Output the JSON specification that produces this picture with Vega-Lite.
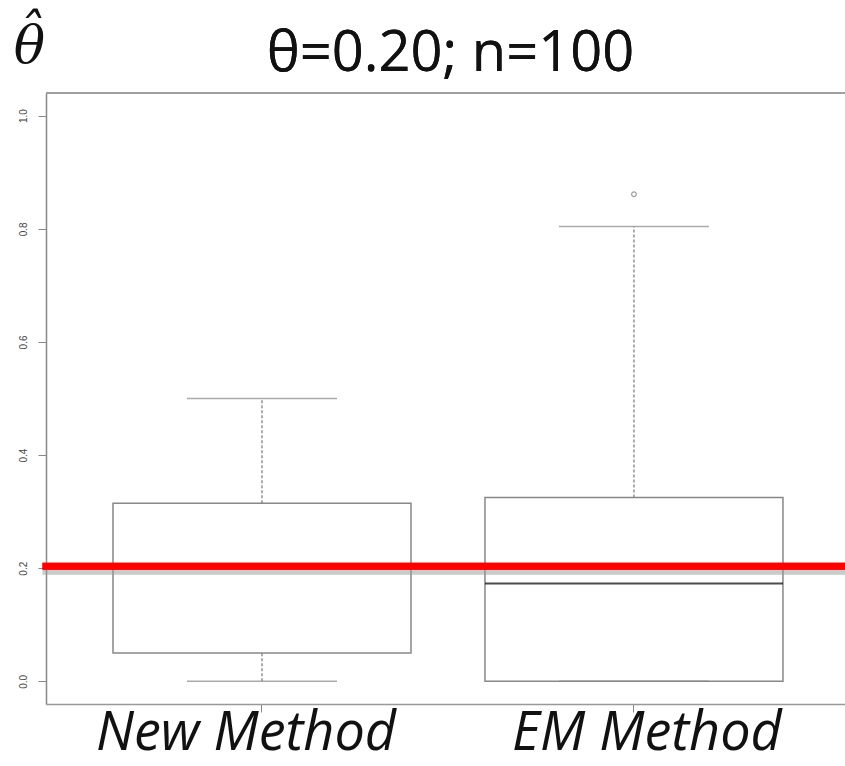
{
  "$schema": "https://vega.github.io/schema/vega-lite/v6.json",
  "autosize": "none",
  "width": 799,
  "height": 611,
  "padding": {"left": 46, "top": 93, "right": 0, "bottom": 62},
  "background": "white",
  "config": {"view": {"stroke": null}},
  "datasets": {
    "stats": [
      {"method": "New Method", "lower": 0, "q1": 0.05, "median": 0.2, "q3": 0.315, "upper": 0.5},
      {"method": "EM Method", "lower": 0, "q1": 0, "median": 0.173, "q3": 0.325, "upper": 0.804}
    ],
    "outliers": [
      {"method": "EM Method", "value": 0.861}
    ]
  },
  "data": {"name": "stats"},
  "layer": [
    {
      "mark": {"type": "bar", "size": 298, "fill": "white", "stroke": "#888", "strokeWidth": 1.5},
      "encoding": {
        "x": {"field": "method", "type": "nominal", "sort": ["New Method", "EM Method"],
              "scale": {"type": "band", "paddingInner": 0, "paddingOuter": 0.074, "align": 0.545},
              "axis": {"orient": "bottom", "title": null, "domain": true, "domainColor": "#999", "domainWidth": 1.5,
                       "ticks": true, "tickColor": "#888", "tickSize": 8, "tickWidth": 1,
                       "labelFont": "Open Sans", "labelFontStyle": "italic", "labelFontSize": 54, "labelColor": "#111",
                       "labelBaseline": "alphabetic", "labelPadding": 37, "labelLimit": 0, "labelOverlap": false,
                       "labelAngle": 0,
                       "labelOffset": {"condition": {"test": "datum.value === 'New Method'", "value": -16}, "value": 13}}},
        "y": {"field": "q1", "type": "quantitative",
              "scale": {"domain": [-0.04, 1.04], "nice": false, "zero": false},
              "axis": {"orient": "left", "values": [0, 0.2, 0.4, 0.6, 0.8, 1.0], "format": ".1f",
                       "domain": true, "domainColor": "#888", "domainWidth": 1.5,
                       "ticks": true, "tickColor": "#888", "tickSize": 8, "tickWidth": 1,
                       "labelFont": "Liberation Sans", "labelFontSize": 10, "labelColor": "#444",
                       "labelAngle": -90, "labelAlign": "center", "labelBaseline": "bottom", "labelPadding": 10,
                       "grid": false,
                       "title": ["ˆ", "θ"], "titleFont": "DejaVu Serif", "titleFontStyle": "italic", "titleFontWeight": "normal",
                       "titleFontSize": 52, "titleColor": "#111", "titleAngle": 0, "titleAlign": "center",
                       "titleBaseline": "alphabetic", "titleLineHeight": 13, "titleX": -17, "titleY": -44}},
        "y2": {"field": "q3"}
      }
    },
    {
      "mark": {"type": "rule", "color": "#777", "strokeWidth": 1.2, "strokeDash": [3, 2]},
      "encoding": {
        "x": {"field": "method", "type": "nominal", "sort": ["New Method", "EM Method"]},
        "y": {"field": "q3", "type": "quantitative"},
        "y2": {"field": "upper"}
      }
    },
    {
      "mark": {"type": "rule", "color": "#777", "strokeWidth": 1.2, "strokeDash": [3, 2]},
      "encoding": {
        "x": {"field": "method", "type": "nominal", "sort": ["New Method", "EM Method"]},
        "y": {"field": "lower", "type": "quantitative"},
        "y2": {"field": "q1"}
      }
    },
    {
      "mark": {"type": "tick", "size": 298, "thickness": 1.8, "color": "#000"},
      "encoding": {
        "x": {"field": "method", "type": "nominal", "sort": ["New Method", "EM Method"]},
        "y": {"field": "median", "type": "quantitative"}
      }
    },
    {
      "mark": {"type": "tick", "size": 150, "thickness": 1.5, "color": "#888"},
      "encoding": {
        "x": {"field": "method", "type": "nominal", "sort": ["New Method", "EM Method"]},
        "y": {"field": "upper", "type": "quantitative"}
      }
    },
    {
      "mark": {"type": "tick", "size": 150, "thickness": 1.5, "color": "#888"},
      "encoding": {
        "x": {"field": "method", "type": "nominal", "sort": ["New Method", "EM Method"]},
        "y": {"field": "lower", "type": "quantitative"}
      }
    },
    {
      "data": {"name": "outliers"},
      "mark": {"type": "point", "shape": "circle", "filled": false, "size": 22, "stroke": "#777", "strokeWidth": 1.2},
      "encoding": {
        "x": {"field": "method", "type": "nominal", "sort": ["New Method", "EM Method"]},
        "y": {"field": "value", "type": "quantitative"}
      }
    },
    {
      "mark": {"type": "rule", "color": "#999", "strokeWidth": 1.5},
      "encoding": {"y": {"datum": 1.04, "type": "quantitative"}}
    },
    {
      "mark": {"type": "text", "font": "Open Sans", "fontSize": 56, "color": "#111", "baseline": "alphabetic", "dy": -22, "dx": 5},
      "encoding": {"text": {"value": "θ=0.20; n=100"}, "y": {"datum": 1.04, "type": "quantitative"}}
    },
    {
      "mark": {"type": "rule", "color": "#999", "strokeWidth": 7, "opacity": 0.3, "yOffset": 3, "xOffset": -3, "strokeCap": "square"},
      "encoding": {"y": {"datum": 0.2, "type": "quantitative"}}
    },
    {
      "mark": {"type": "rule", "color": "#ff0000", "strokeWidth": 7, "yOffset": -2, "xOffset": -3, "strokeCap": "square"},
      "encoding": {"y": {"datum": 0.2, "type": "quantitative"}}
    }
  ]
}
